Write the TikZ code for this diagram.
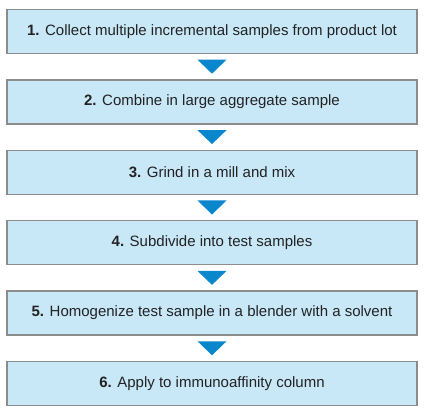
\documentclass[tikz,border=0pt]{standalone}
\usepackage{fontspec}
\setmainfont{Liberation Sans}
\definecolor{boxfill}{HTML}{C8E8F8}
\definecolor{boxline}{HTML}{8C8C8C}
\definecolor{arrowblue}{HTML}{0A86CC}
\definecolor{txt}{HTML}{222222}
\begin{document}
\begin{tikzpicture}[x=1pt,y=1pt,
  stepbox/.style={draw=boxline,line width=1.5pt,fill=boxfill,minimum width=410pt,minimum height=44pt,inner sep=0pt,text=txt,font=\fontsize{15}{17}\selectfont},
  tri/.style={fill=arrowblue,draw=none}]
\useasboundingbox (0,0) rectangle (425,415);
\foreach \i/\t [count=\k from 0] in {1/Collect multiple incremental samples from product lot,2/Combine in large aggregate sample,3/Grind in a mill and mix,4/Subdivide into test samples,5/Homogenize test sample in a blender with a solvent,6/Apply to immunoaffinity column}{
  \node[stepbox] (b\i) at (212,{415-31.5-70.4*\k}) {\textbf{\i.} \t};
}
\foreach \a/\b in {1/2,2/3,3/4,4/5,5/6}{
  \path (b\a.south) -- (b\b.north) coordinate[midway] (m\a);
  \fill[tri] ([xshift=-14.5pt,yshift=7pt]m\a) -- ([xshift=14.5pt,yshift=7pt]m\a) -- ([yshift=-7pt]m\a) -- cycle;
}
\end{tikzpicture}
\end{document}
